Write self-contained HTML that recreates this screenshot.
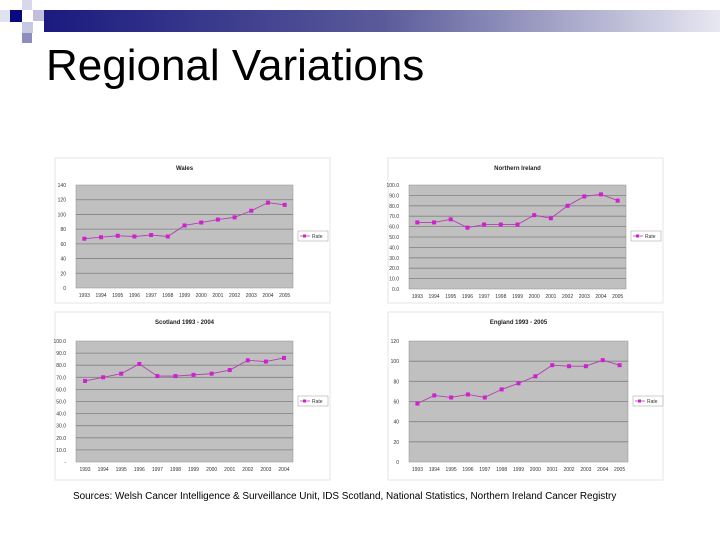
<!DOCTYPE html>
<html><head><meta charset="utf-8"><style>
body{margin:0;width:720px;height:540px;background:#fff;position:relative;overflow:hidden;font-family:"Liberation Sans",sans-serif}
.sq{position:absolute}
</style></head><body>
<div class="sq" style="left:10px;top:10px;width:12px;height:12px;background:#0a0a80"></div>
<div class="sq" style="left:22px;top:0;width:10px;height:10px;background:#d8d8ea"></div>
<div class="sq" style="left:33px;top:10px;width:11px;height:11px;background:#c0c0dc"></div>
<div class="sq" style="left:0;top:10px;width:10px;height:12px;background:#e2e2ee"></div>
<div class="sq" style="left:22px;top:22px;width:11px;height:11px;background:#c8c8e0"></div>
<div class="sq" style="left:22px;top:33px;width:10px;height:10px;background:#8c8cc0"></div>
<div class="sq" style="left:44px;top:10px;width:676px;height:22px;background:linear-gradient(90deg,#1a1a80,#5a5a9a 50%,#e8e8f2)"></div>
<div style="position:absolute;left:46px;top:41px;font-size:44px;color:#000">Regional Variations</div>
<svg id="s" width="720" height="540" style="position:absolute;left:0;top:0"></svg>
<div style="position:absolute;left:73px;top:491px;font-size:9.95px;color:#000">Sources: Welsh Cancer Intelligence &amp; Surveillance Unit, IDS Scotland, National Statistics, Northern Ireland Cancer Registry</div>
<script>
const years13=["1993","1994","1995","1996","1997","1998","1999","2000","2001","2002","2003","2004","2005"];
const years12=["1993","1994","1995","1996","1997","1998","1999","2000","2001","2002","2003","2004"];
const walesVals=[67,69,71,70,72,70,85,89,93,96,105,116,113];
const niVals=[64,64,67,59,62,62,62,71,68,80,89,91,85];
const scotVals=[67,70,73,81,71,71,72,73,76,84,83,86];
const engVals=[58,66,64,67,64,72,78,85,96,95,95,101,96];
const walesTicks=["0","20","40","60","80","100","120","140"];
const niTicks=["0.0","10.0","20.0","30.0","40.0","50.0","60.0","70.0","80.0","90.0","100.0"];
const scotTicks=["-","10.0","20.0","30.0","40.0","50.0","60.0","70.0","80.0","90.0","100.0"];
const engTicks=["0","20","40","60","80","100","120"];
const NS="http://www.w3.org/2000/svg";
const svg=document.getElementById('s');
function mk(t,a,p){const e=document.createElementNS(NS,t);for(const k in a)e.setAttribute(k,a[k]);(p||svg).appendChild(e);return e;}
function chart(name,title,cats,vals,ticks,maxV,box,plot,legendY){
  const g=mk('g',{});
  
  
  const bg=mk('rect',{x:box[0],y:box[1],width:box[2],height:box[3],fill:'#fff',stroke:'#e4e4e4'},g);
  
  
  const t=mk('text',{x:plot[0]+plot[2]/2,y:box[1]+12,'font-size':6,'font-weight':'bold','text-anchor':'middle',fill:'#222'},g);
  t.textContent=title;
  
  
  const [px,py,pw,ph]=plot;
  mk('rect',{x:px,y:py,width:pw,height:ph,fill:'#c0c0c0',stroke:'#909090','stroke-width':0.5},g);
  const yS=v=>py+ph-v/maxV*ph;
  const n=ticks.length;
  for(let i=0;i<n;i++){
    const v=maxV*i/(n-1),y=yS(v);
    if(i>0&&i<n-1) mk('line',{x1:px,x2:px+pw,y1:y,y2:y,stroke:'#808080','stroke-width':0.8},g);
    const tx=mk('text',{x:px-10,y:y+2,'font-size':5,'text-anchor':'end',fill:'#333'},g);
    tx.textContent=ticks[i];
    
    
  }
  const bw=pw/cats.length,xS=i=>px+bw*(i+0.5);
  cats.forEach((c,i)=>{
    const tx=mk('text',{x:xS(i),y:py+ph+9,'font-size':5,'text-anchor':'middle',fill:'#333'},g);
    tx.textContent=c;
    
    
  });
  const pl=mk('polyline',{points:vals.map((v,i)=>xS(i)+','+yS(v)).join(' '),fill:'none',stroke:'#b040b0','stroke-width':0.9},g);
  
  
  vals.forEach((v,i)=>{
    const r=mk('rect',{x:xS(i)-2,y:yS(v)-2,width:4,height:4,fill:'#d020d0'},g);
    
    
  });
  const lx=px+pw+5;
  const lg=mk('rect',{x:lx,y:legendY-5,width:30,height:10,fill:'#fff',stroke:'#999','stroke-width':0.5},g);
  
  
  mk('line',{x1:lx+2,x2:lx+12,y1:legendY,y2:legendY,stroke:'#b040b0','stroke-width':0.8},g);
  mk('rect',{x:lx+5,y:legendY-1.5,width:3,height:3,fill:'#d020d0'},g);
  const lt=mk('text',{x:lx+14,y:legendY+2,'font-size':5,fill:'#333'},g);
  lt.textContent='Rate';
}
chart('wales-chart','Wales',years13,walesVals,walesTicks,140,[55,158,275,145],[76,185,217,103],236);
chart('ni-chart','Northern Ireland',years13,niVals,niTicks,100,[388,158,275,145],[409,185,217,104],236);
chart('scotland-chart','Scotland 1993 - 2004',years12,scotVals,scotTicks,100,[55,312,275,168],[76,341,217,121],401);
chart('england-chart','England 1993 - 2005',years13,engVals,engTicks,120,[388,312,275,168],[409,341,219,121],401);
</script>
</body></html>
